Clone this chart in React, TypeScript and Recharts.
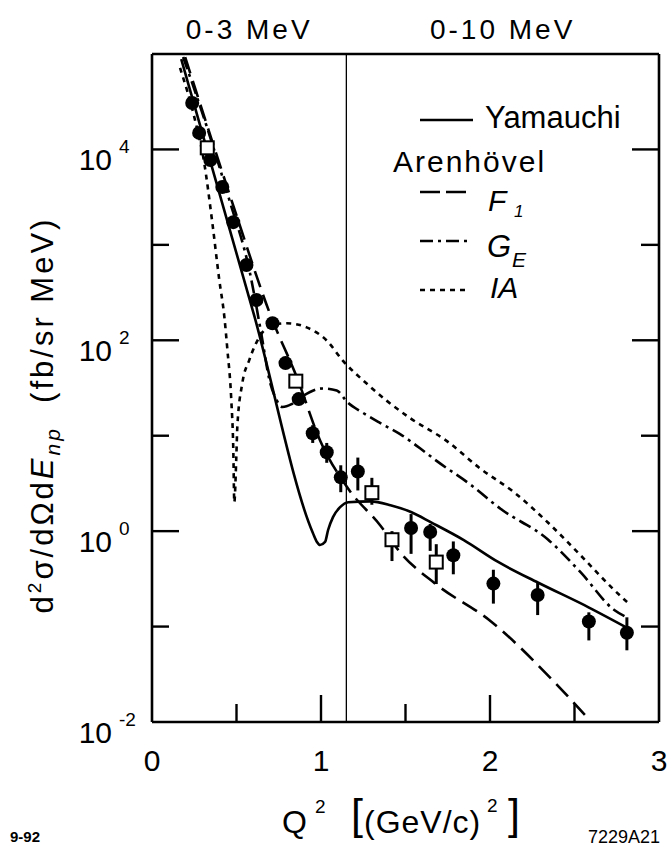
import React from 'react';
import {
  ComposedChart,
  Line,
  Scatter,
  XAxis,
  YAxis,
  ErrorBar,
  ReferenceLine,
  ReferenceArea,
  Legend,
} from 'recharts';

const FONT = '"Liberation Sans", Arial, Helvetica, sans-serif';

// measured points, solid circles
const circleQ2 = [0.238, 0.279, 0.345, 0.416, 0.481, 0.559, 0.618, 0.713, 0.79, 0.868, 0.951, 1.034, 1.117, 1.218, 1.533, 1.646, 1.783, 2.02, 2.282, 2.585, 2.81];
const circleVal = [30700, 14900, 7740, 4040, 1730, 615, 264, 151, 57.7, 24.2, 10.6, 6.7, 3.66, 4.22, 1.08, 0.98, 0.558, 0.282, 0.214, 0.113, 0.086];
const circleHi = [30700, 14900, 7740, 4040, 1730, 615, 264, 151, 57.7, 24.2, 12.9, 8.4, 4.9, 5.9, 1.51, 1.19, 0.78, 0.394, 0.292, 0.141, 0.125];
const circleLo = [30700, 14900, 7740, 4040, 1730, 615, 264, 151, 57.7, 24.2, 8.4, 5.2, 2.56, 2.67, 0.578, 0.621, 0.353, 0.174, 0.132, 0.0716, 0.0564];

// measured points, open squares
const squareQ2 = [0.327, 0.851, 1.301, 1.42, 1.682];
const squareVal = [10400, 37.3, 2.53, 0.813, 0.474];
const squareHi = [10400, 37.3, 3.62, 1.0, 0.73];
const squareLo = [10400, 37.3, 1.89, 0.486, 0.279];

// Yamauchi (solid)
const yamQ2 = [0.173, 0.607, 0.952, 0.976, 0.994, 1.024, 1.042, 1.071, 1.113, 1.161, 1.292, 1.411, 1.536, 1.649, 1.845, 2.048, 2.286, 2.583, 2.815];
const yamLog = [4.947, 2.245, -0.019, -0.113, -0.145, -0.113, 0.012, 0.147, 0.251, 0.303, 0.312, 0.272, 0.198, 0.094, -0.094, -0.323, -0.541, -0.798, -1.016];

// Arenhoevel F1 (dashed)
const f1Q2 = [0.196, 0.476, 0.708, 0.857, 0.994, 1.155, 1.351, 1.47, 1.679, 2.006, 2.363, 2.589];
const f1Log = [4.968, 3.438, 2.232, 1.613, 0.953, 0.459, 0.059, -0.226, -0.554, -0.946, -1.548, -1.98];

// Arenhoevel G_E (dash-dot)
const geQ2 = [0.184, 0.321, 0.458, 0.576, 0.648, 0.695, 0.737, 0.772, 0.826, 0.891, 1.01, 1.093, 1.159, 1.248, 1.349, 1.468, 1.586, 1.688, 1.884, 2.062, 2.341, 2.537, 2.733, 2.816];
const geLog = [4.969, 4.256, 3.469, 2.736, 2.055, 1.584, 1.375, 1.301, 1.331, 1.414, 1.495, 1.473, 1.346, 1.24, 1.134, 1.017, 0.868, 0.731, 0.488, 0.234, -0.085, -0.433, -0.823, -0.908];

// Arenhoevel IA (dotted)
const iaQ2 = [0.166, 0.25, 0.309, 0.357, 0.398, 0.428, 0.446, 0.469, 0.481, 0.487, 0.499, 0.505, 0.535, 0.576, 0.636, 0.713, 0.796, 0.915, 1.034, 1.129, 1.272, 1.39, 1.527, 1.747, 1.943, 2.139, 2.341, 2.537, 2.733, 2.816];
const iaLog = [4.854, 4.341, 3.859, 3.231, 2.634, 2.248, 1.903, 1.379, 0.857, 0.303, 0.784, 1.098, 1.556, 1.795, 2.036, 2.159, 2.179, 2.135, 1.997, 1.787, 1.544, 1.365, 1.185, 0.941, 0.655, 0.412, 0.093, -0.255, -0.614, -0.751];

const xTicks = [0, 0.5, 1, 1.5, 2, 2.5, 3];
const yTicks = [0.01, 0.1, 1, 10, 100, 1000, 10000];
const splitQ2 = 1.15;

const curve = (q: number[], lg: number[]) => q.map((x, i) => ({ q: x, v: Math.pow(10, lg[i]) }));
const points = (q: number[], v: number[], hi: number[], lo: number[]) =>
  q.map((x, i) => ({ q: x, v: v[i], err: [v[i] - lo[i], hi[i] - v[i]] }));

const yamData = curve(yamQ2, yamLog);
const f1Data = curve(f1Q2, f1Log);
const geData = curve(geQ2, geLog);
const iaData = curve(iaQ2, iaLog);
const circleData = points(circleQ2, circleVal, circleHi, circleLo);
const squareData = points(squareQ2, squareVal, squareHi, squareLo);

const DASH_F1 = '17 8';
const DASH_GE = '13 5 3 5';
const DASH_IA = '5 5';
const SW = 2.6;

const BottomTick = ({ x, y, payload }: any) => {
  const v = payload.value;
  const major = Number.isInteger(v);
  return (
    <g>
      {v > 0 && v < 3 && (
        <line x1={x} y1={y} x2={x} y2={y - (major ? 27 : 18)} stroke="#000" strokeWidth={2.4} />
      )}
      {major && (
        <text x={x} y={y + 49} textAnchor="middle" fontFamily={FONT} fontSize={30} fill="#000">
          {v}
        </text>
      )}
    </g>
  );
};

const TopTick = ({ x, y, payload }: any) => {
  const v = payload.value;
  if (v <= 0 || v >= 3) return <g />;
  const major = Number.isInteger(v);
  return <line x1={x} y1={y} x2={x} y2={y + (major ? 27 : 19)} stroke="#000" strokeWidth={2.4} />;
};

const LeftTick = ({ x, y, payload }: any) => {
  const exp = Math.round(Math.log10(payload.value));
  const major = exp % 2 === 0;
  return (
    <g>
      {exp > -2 && <line x1={x} y1={y} x2={x + (major ? 27 : 17)} y2={y} stroke="#000" strokeWidth={2.4} />}
      {major && (
        <g fontFamily={FONT} fill="#000">
          <text x={x - 40} y={y + 21} textAnchor="end" fontSize={30}>10</text>
          <text x={x - 33} y={y + 4} fontSize={19}>{exp}</text>
        </g>
      )}
    </g>
  );
};

const RightTick = ({ x, y, payload }: any) => {
  const exp = Math.round(Math.log10(payload.value));
  if (exp <= -2) return <g />;
  const major = exp % 2 === 0;
  return <line x1={x} y1={y} x2={x - (major ? 27 : 18)} y2={y} stroke="#000" strokeWidth={2.4} />;
};

const FilledDot = (p: any) => <circle cx={p.cx} cy={p.cy} r={7} fill="#000" />;
const OpenSquare = (p: any) => (
  <rect x={p.cx - 6.5} y={p.cy - 6.5} width={13} height={13} fill="#fff" stroke="#000" strokeWidth={2} />
);

const XTitle = () => (
  <g fontFamily={FONT} fill="#000">
    <text x={282} y={833} fontSize={32}>Q</text>
    <text x={315} y={813} fontSize={19}>2</text>
    <text x={351} y={829} fontSize={43}>[</text>
    <text x={364} y={833} fontSize={32} letterSpacing={1}>(GeV/c)</text>
    <text x={487} y={812} fontSize={19}>2</text>
    <text x={508} y={829} fontSize={43}>]</text>
    <text x={10} y={842} fontSize={15} fontWeight="bold">9-92</text>
    <text x={588} y={843} fontSize={18}>7229A21</text>
  </g>
);

const YTitle = () => (
  <text transform="translate(53,415) rotate(-90)" textAnchor="middle" fontFamily={FONT} fontSize={31} fill="#000" letterSpacing={3}>
    <tspan>d</tspan>
    <tspan fontSize={19} dy={-12}>2</tspan>
    <tspan dy={12}>σ/dΩd</tspan>
    <tspan fontStyle="italic">E</tspan>
    <tspan fontStyle="italic" fontSize={21} dy={7}>np</tspan>
    <tspan dy={-7}>{'\u00a0\u00a0(fb/sr MeV)'}</tspan>
  </text>
);

const LegendBox = () => (
  <svg width={280} height={240} style={{ overflow: 'visible', display: 'block' }}>
    <g transform="translate(-390,-90)" fontFamily={FONT} fill="#000" stroke="none">
      <line x1={420} y1={120} x2={473} y2={120} stroke="#000" strokeWidth={SW} />
      <text x={485} y={128} fontSize={31}>Yamauchi</text>
      <text x={393} y={172} fontSize={30} letterSpacing={2}>Arenhövel</text>
      <line x1={420} y1={192} x2={467} y2={192} stroke="#000" strokeWidth={SW} strokeDasharray="20 6" />
      <text x={488} y={211} fontSize={30} fontStyle="italic">F</text>
      <text x={514} y={217} fontSize={17} fontStyle="italic">1</text>
      <line x1={420} y1={241} x2={467} y2={241} stroke="#000" strokeWidth={SW} strokeDasharray={DASH_GE} />
      <text x={487} y={257} fontSize={31} fontStyle="italic">G</text>
      <text x={512} y={267} fontSize={21} fontStyle="italic">E</text>
      <line x1={420} y1={290} x2={467} y2={290} stroke="#000" strokeWidth={SW} strokeDasharray={DASH_IA} />
      <text x={490} y={298} fontSize={30} fontStyle="italic">IA</text>
    </g>
  </svg>
);

const labelStyle = { fontSize: 28, fontFamily: FONT, fill: '#000', letterSpacing: 3 };
const frame = { stroke: '#000', strokeWidth: 2.6 };

export default function App() {
  return (
    <div style={{ position: 'absolute', left: 0, top: 0, width: 672, height: 847, background: '#fff' }}>
      <ComposedChart width={672} height={847} margin={{ top: 53, right: 12, bottom: 124, left: 151 }}>
        <XAxis
          xAxisId="b"
          dataKey="q"
          type="number"
          domain={[0, 3]}
          ticks={xTicks}
          interval={0}
          allowDataOverflow
          height={1}
          tickSize={0}
          tickMargin={0}
          tickLine={false}
          axisLine={frame}
          tick={BottomTick}
          label={<XTitle />}
        />
        <XAxis
          xAxisId="t"
          orientation="top"
          type="number"
          domain={[0, 3]}
          ticks={xTicks}
          interval={0}
          allowDataOverflow
          height={1}
          tickSize={0}
          tickMargin={0}
          tickLine={false}
          axisLine={frame}
          tick={TopTick}
        />
        <YAxis
          yAxisId="l"
          dataKey="v"
          type="number"
          scale="log"
          domain={[0.01, 100000]}
          ticks={yTicks}
          interval={0}
          allowDataOverflow
          width={1}
          tickSize={0}
          tickMargin={0}
          tickLine={false}
          axisLine={frame}
          tick={LeftTick}
          label={<YTitle />}
        />
        <YAxis
          yAxisId="r"
          orientation="right"
          type="number"
          scale="log"
          domain={[0.01, 100000]}
          ticks={yTicks}
          interval={0}
          allowDataOverflow
          width={1}
          tickSize={0}
          tickMargin={0}
          tickLine={false}
          axisLine={frame}
          tick={RightTick}
        />
        <ReferenceArea
          xAxisId="b"
          yAxisId="l"
          x1={0}
          x2={splitQ2}
          fillOpacity={0}
          strokeOpacity={0}
          label={{ value: '0-3 MeV', position: 'top', offset: 15, ...labelStyle }}
        />
        <ReferenceArea
          xAxisId="b"
          yAxisId="l"
          x1={splitQ2}
          x2={3}
          fillOpacity={0}
          strokeOpacity={0}
          label={{ value: '0-10 MeV', position: 'top', offset: 15, ...labelStyle }}
        />
        <ReferenceLine xAxisId="b" yAxisId="l" x={splitQ2} stroke="#000" strokeWidth={1.3} />
        <Line xAxisId="b" yAxisId="l" data={iaData} dataKey="v" type="monotone" stroke="#000" strokeWidth={SW} strokeDasharray={DASH_IA} dot={false} isAnimationActive={false} />
        <Line xAxisId="b" yAxisId="l" data={geData} dataKey="v" type="monotone" stroke="#000" strokeWidth={SW} strokeDasharray={DASH_GE} dot={false} isAnimationActive={false} />
        <Line xAxisId="b" yAxisId="l" data={f1Data} dataKey="v" type="monotone" stroke="#000" strokeWidth={SW} strokeDasharray={DASH_F1} dot={false} isAnimationActive={false} />
        <Line xAxisId="b" yAxisId="l" data={yamData} dataKey="v" type="monotone" stroke="#000" strokeWidth={SW} dot={false} isAnimationActive={false} />
        <Scatter xAxisId="b" yAxisId="l" data={circleData} dataKey="v" shape={FilledDot} isAnimationActive={false}>
          <ErrorBar dataKey="err" direction="y" width={0} stroke="#000" strokeWidth={3} />
        </Scatter>
        <Scatter xAxisId="b" yAxisId="l" data={squareData} dataKey="v" shape={OpenSquare} isAnimationActive={false}>
          <ErrorBar dataKey="err" direction="y" width={0} stroke="#000" strokeWidth={3} />
        </Scatter>
        <Legend
          layout="vertical"
          verticalAlign="middle"
          align="center"
          content={LegendBox}
          wrapperStyle={{ left: 390, top: 90, width: 280, height: 240 }}
        />
      </ComposedChart>
    </div>
  );
}
